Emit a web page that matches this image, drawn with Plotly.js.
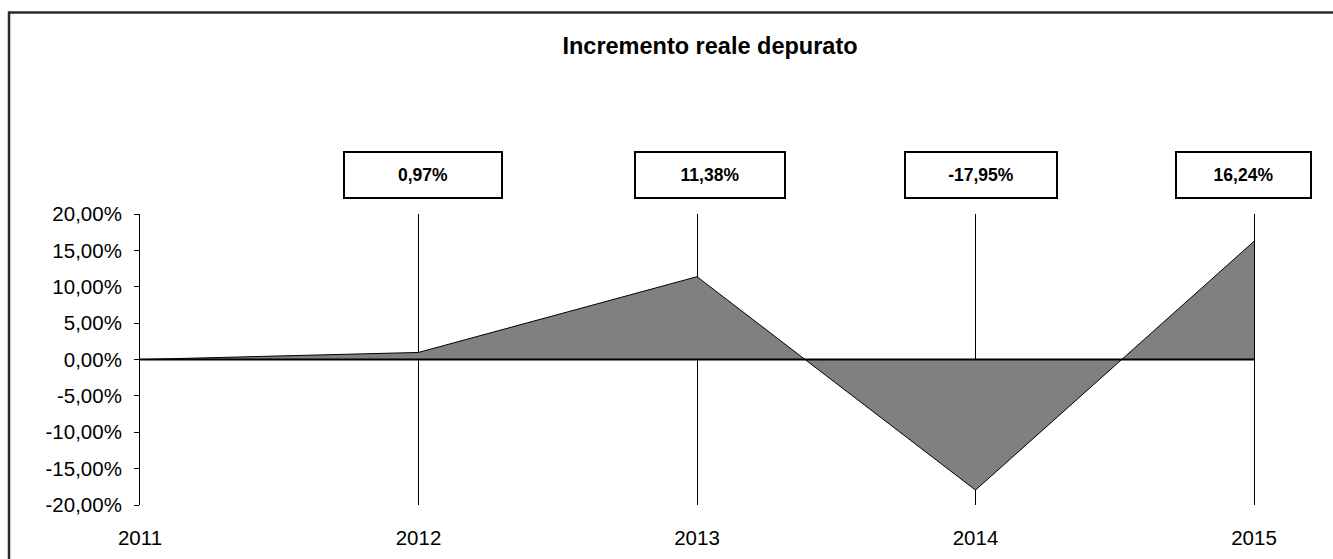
<!DOCTYPE html>
<html>
<head>
<meta charset="utf-8">
<script src="https://cdn.plot.ly/plotly-3.0.1.min.js"></script>
<style>
  html, body { margin: 0; padding: 0; background: #fff; }
  #chart { width: 1333px; height: 559px; }
</style>
</head>
<body>
<div id="chart"></div>
<script>
// Real increment, net of adjustments, per year (percent)
const years = [2011, 2012, 2013, 2014, 2015];
const increments = [0, 0.97, 11.38, -17.95, 16.24];
const yTicks = [-20, -15, -10, -5, 0, 5, 10, 15, 20];

// Label boxes: horizontal nudge and box width, per labelled year (2012..2015)
const boxShift = [4, 13, 5, -10.5];
const boxWidth = [160, 152, 154, 137];

const fmt = v => v.toFixed(2).replace('.', ',') + '%';

const FONT = 'Liberation Sans, Arial, Helvetica, sans-serif';

const trace = {
  x: years,
  y: increments,
  type: 'scatter',
  mode: 'lines',
  fill: 'tozeroy',
  fillcolor: '#808080',
  line: { color: '#000', width: 1 },
  hoverinfo: 'skip'
};

const annotations = years.slice(1).map((yr, i) => ({
  x: yr,
  xref: 'x',
  xshift: boxShift[i],
  y: (505 - 175) / 291,
  yref: 'paper',
  xanchor: 'center',
  yanchor: 'middle',
  text: fmt(increments[i + 1]),
  showarrow: false,
  width: boxWidth[i] - 4,
  height: 44,
  align: 'center',
  valign: 'middle',
  bgcolor: '#fff',
  bordercolor: '#000',
  borderwidth: 2,
  borderpad: 0,
  font: { family: FONT, size: 17.5, color: '#000', weight: 'bold' }
}));

const layout = {
  width: 1333,
  height: 559,
  margin: { l: 140, r: 79, t: 214, b: 54 },
  paper_bgcolor: '#fff',
  plot_bgcolor: 'rgba(0,0,0,0)',
  showlegend: false,
  title: {
    text: 'Incremento reale depurato',
    x: 710 / 1333,
    xref: 'container',
    xanchor: 'center',
    y: 1 - 46 / 559,
    yref: 'container',
    yanchor: 'middle',
    font: { family: FONT, size: 23.5, color: '#000', weight: 'bold' }
  },
  xaxis: {
    type: 'linear',
    range: [2011, 2015],
    tickmode: 'array',
    tickvals: years,
    ticktext: years.map(String),
    showgrid: true,
    gridcolor: '#000',
    gridwidth: 1,
    zeroline: false,
    showline: false,
    ticks: 'outside',
    ticklen: 14,
    tickcolor: 'rgba(0,0,0,0)',
    tickfont: { family: FONT, size: 20.5, color: '#000' },
    fixedrange: true
  },
  yaxis: {
    range: [-20, 20],
    tickmode: 'array',
    tickvals: yTicks,
    ticktext: yTicks.map(fmt),
    showgrid: false,
    zeroline: false,
    showline: true,
    mirror: true,
    linecolor: '#000',
    linewidth: 1,
    ticks: 'outside',
    ticklen: 5,
    tickwidth: 1,
    tickcolor: '#000',
    ticklabelstandoff: 8,
    tickfont: { family: FONT, size: 20.5, color: '#000' },
    fixedrange: true
  },
  shapes: [
    // horizontal axis through zero
    {
      type: 'line', xref: 'paper', yref: 'y',
      x0: 0, x1: 1, y0: 0, y1: 0,
      line: { color: '#000', width: 2 },
      layer: 'above'
    },
    // chart frame
    {
      type: 'rect', xref: 'paper', yref: 'paper',
      x0: (9 - 140) / 1114, x1: (1345 - 140) / 1114,
      y0: (505 - 575) / 291, y1: (505 - 12.5) / 291,
      line: { color: '#2b2b2b', width: 2.5 },
      fillcolor: 'rgba(0,0,0,0)',
      layer: 'below'
    }
  ],
  annotations: annotations
};

Plotly.newPlot('chart', [trace], layout, { staticPlot: true, displayModeBar: false });
</script>
</body>
</html>
